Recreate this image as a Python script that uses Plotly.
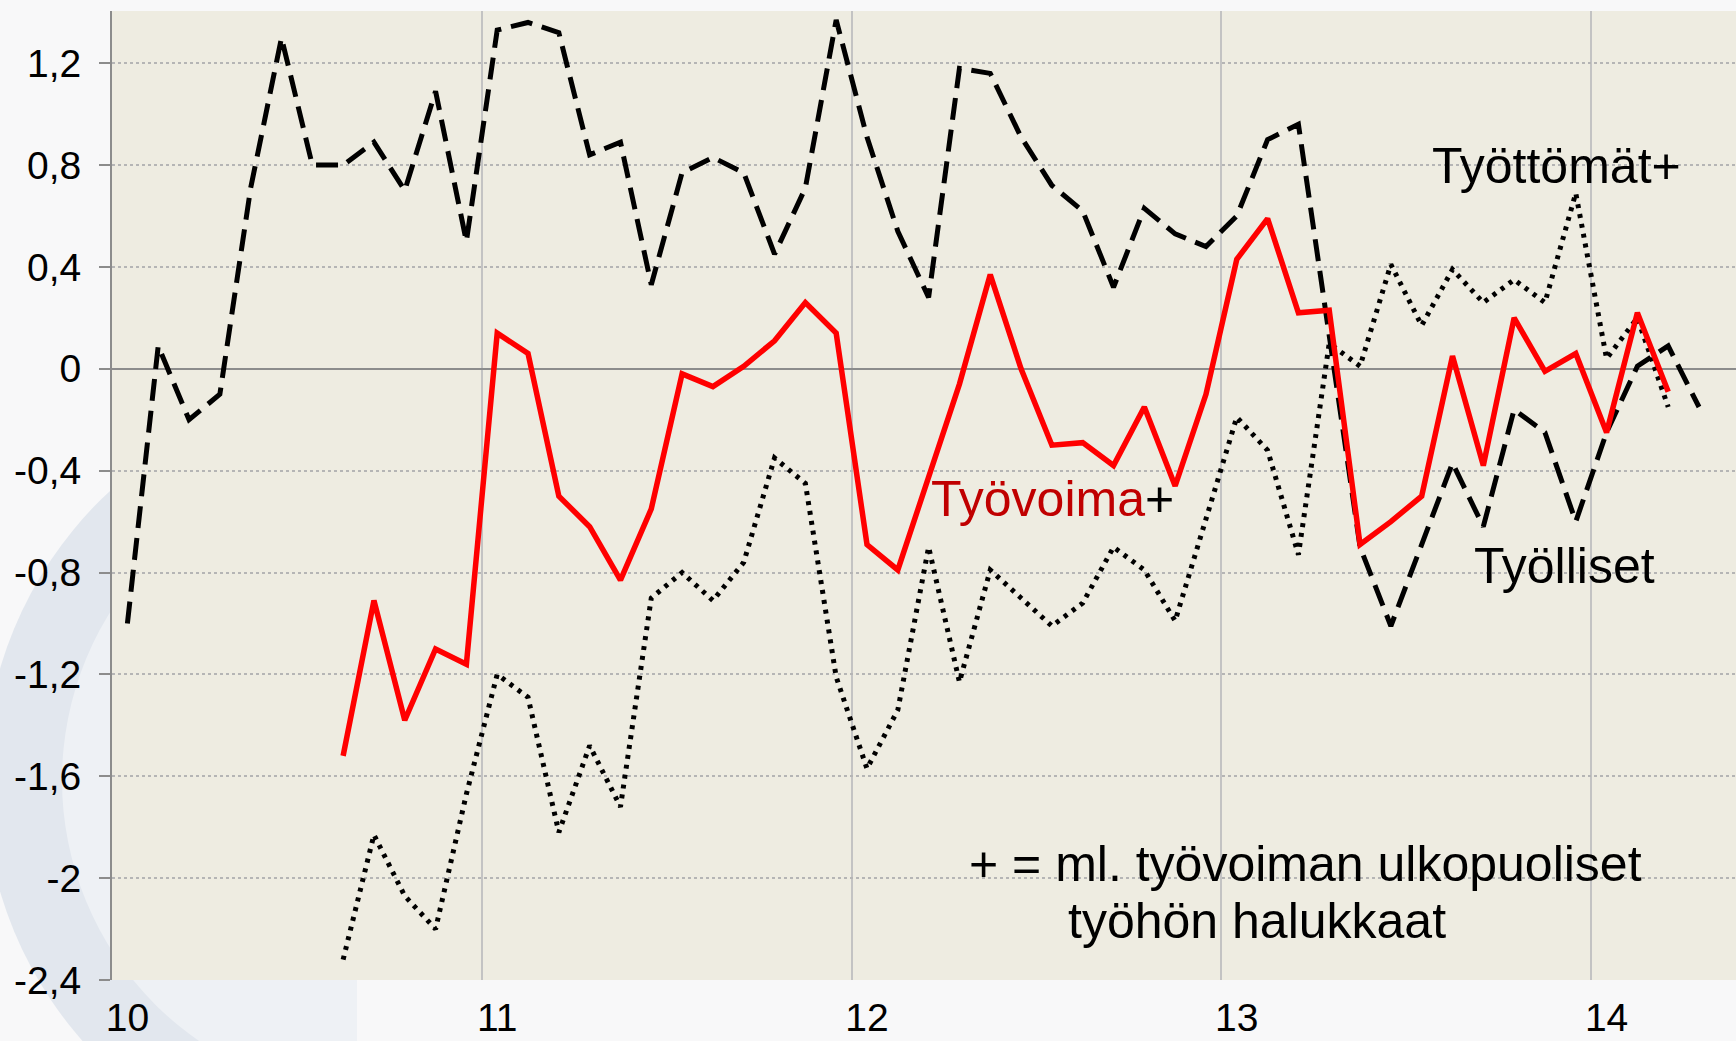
import plotly.graph_objects as go

# ---------------- data (monthly, Jan 2010 = index 0 ... Apr 2014 = index 51) ----------------
months = list(range(52))
year_labels = ["10", "11", "12", "13", "14"]
year_label_months = [0, 12, 24, 36, 48]
year_boundaries = [11.5, 23.5, 35.5, 47.5]

tyolliset = [-1.00, 0.09, -0.20, -0.10, 0.71, 1.30, 0.80, 0.80, 0.89, 0.70, 1.09, 0.50,
             1.33, 1.36, 1.32, 0.84, 0.89, 0.33, 0.77, 0.83, 0.77, 0.45, 0.71, 1.37,
             0.91, 0.54, 0.28, 1.18, 1.16, 0.91, 0.72, 0.62, 0.32, 0.63, 0.53, 0.48,
             0.60, 0.90, 0.96, 0.13, -0.70, -1.01, -0.69, -0.37, -0.62, -0.16, -0.25, -0.60,
             -0.25, 0.01, 0.09, -0.15]

tyovoima = [None] * 7 + [
    -1.52, -0.91, -1.38, -1.10, -1.16,
    0.14, 0.06, -0.50, -0.62, -0.83, -0.55, -0.02, -0.07, 0.01, 0.11, 0.26, 0.14,
    -0.69, -0.79, -0.42, -0.06, 0.37, 0.00, -0.30, -0.29, -0.38, -0.15, -0.46, -0.10,
    0.43, 0.59, 0.22, 0.23, -0.69, -0.60, -0.50, 0.05, -0.38, 0.20, -0.01, 0.06,
    -0.25, 0.22, -0.09, None]

tyottomat = [None] * 7 + [
    -2.32, -1.83, -2.07, -2.20, -1.67,
    -1.20, -1.29, -1.82, -1.48, -1.72, -0.90, -0.80, -0.91, -0.76, -0.35, -0.45, -1.21,
    -1.57, -1.34, -0.70, -1.23, -0.79, -0.90, -1.01, -0.92, -0.70, -0.79, -0.99, -0.59,
    -0.19, -0.32, -0.73, 0.10, 0.01, 0.41, 0.17, 0.39, 0.26, 0.35, 0.26, 0.69,
    0.04, 0.20, -0.15, None]

y_tickvals = [-2.4, -2.0, -1.6, -1.2, -0.8, -0.4, 0.0, 0.4, 0.8, 1.2]
y_ticktext = ["-2,4", "-2", "-1,6", "-1,2", "-0,8", "-0,4", "0", "0,4", "0,8", "1,2"]

# ---------------- styling ----------------
FONT = "Liberation Sans, Arial, sans-serif"
W, H = 1736, 1041
L, R, T, B = 112, 0, 11, 61
PAPER = "#F8F8F9"
BEIGE = "#EEECE1"

fig = go.Figure()

fig.add_trace(go.Scatter(x=months, y=tyolliset, mode="lines", name="Työlliset",
                         line=dict(color="black", width=5, dash="22px,10px"),
                         hoverinfo="skip"))
fig.add_trace(go.Scatter(x=months, y=tyottomat, mode="lines", name="Työttömät+",
                         line=dict(color="black", width=5, dash="4px,6px"),
                         hoverinfo="skip"))
fig.add_trace(go.Scatter(x=months, y=tyovoima, mode="lines", name="Työvoima+",
                         line=dict(color="#FF0000", width=5.5),
                         hoverinfo="skip"))

# ---- watermark (only visible outside plot area) in paper coordinates ----
pw = W - L - R
ph = H - T - B
def px(x):
    return (x - L) / pw
def py(y):
    return (H - B - y) / ph

shapes = [
    dict(type="circle", xref="paper", yref="paper", layer="below",
         x0=px(379 - 395), x1=px(379 + 395), y0=py(780 + 395), y1=py(780 - 395),
         fillcolor="#E2E7EE", line=dict(width=0)),
    dict(type="circle", xref="paper", yref="paper", layer="below",
         x0=px(379 - 317), x1=px(379 + 317), y0=py(780 + 317), y1=py(780 - 317),
         fillcolor="#EEF1F5", line=dict(width=0)),
    dict(type="rect", xref="paper", yref="paper", layer="below",
         x0=px(357), x1=px(W + 50), y0=py(H + 50), y1=py(-50),
         fillcolor=PAPER, line=dict(width=0)),
    # plot-area background drawn over the watermark
    dict(type="rect", xref="paper", yref="paper", layer="below",
         x0=0, x1=1, y0=0, y1=1, fillcolor=BEIGE, line=dict(width=0)),
]

ann_font = dict(family=FONT, size=50, color="black")
annotations = [
    dict(x=42.27, y=0.797, xref="x", yref="y", text="Työttömät+", showarrow=False,
         xanchor="left", yanchor="middle", font=ann_font),
    dict(x=43.64, y=-0.775, xref="x", yref="y", text="Työlliset", showarrow=False,
         xanchor="left", yanchor="middle", font=ann_font),
    dict(x=26.0, y=-0.513, xref="x", yref="y",
         text="<span style='color:#C00000'>Työvoima</span>+", showarrow=False,
         xanchor="left", yanchor="middle", font=ann_font),
    dict(x=27.25, y=-1.943, xref="x", yref="y", text="+ = ml. työvoiman ulkopuoliset",
         showarrow=False, xanchor="left", yanchor="middle", font=ann_font),
    dict(x=30.45, y=-2.168, xref="x", yref="y", text="työhön halukkaat",
         showarrow=False, xanchor="left", yanchor="middle", font=ann_font),
]

fig.update_layout(
    width=W, height=H,
    margin=dict(l=L, r=R, t=T, b=B, pad=0, autoexpand=False),
    paper_bgcolor=PAPER,
    plot_bgcolor=BEIGE,
    showlegend=False,
    font=dict(family=FONT, size=39, color="black"),
    shapes=shapes,
    annotations=annotations,
)

fig.update_xaxes(
    range=[-0.5, 52.2], automargin=False,
    tickmode="array", tickvals=year_label_months, ticktext=year_labels,
    ticks="", showgrid=False, zeroline=False, showline=False,
    ticklabelstandoff=11,
    tickfont=dict(family=FONT, size=39, color="black"),
    minor=dict(tickmode="array", tickvals=year_boundaries, showgrid=True,
               gridcolor="#C3C3C3", gridwidth=2, ticks=""),
)

fig.update_yaxes(
    range=[-2.4, 1.405], automargin=False,
    tickmode="array", tickvals=y_tickvals, ticktext=y_ticktext,
    showgrid=True, gridcolor="#B5B5B5", gridwidth=1.5, griddash="dot",
    zeroline=True, zerolinecolor="#8C8C8C", zerolinewidth=2,
    showline=True, linecolor="#8C8C8C", linewidth=2,
    ticks="outside", ticklen=11, tickwidth=2, tickcolor="#8C8C8C",
    ticklabelstandoff=10,
    tickfont=dict(family=FONT, size=39, color="black"),
)

fig.write_html("out.html", config={"displayModeBar": False},
               post_script="document.body.style.margin='0';document.body.style.overflow='hidden';")
